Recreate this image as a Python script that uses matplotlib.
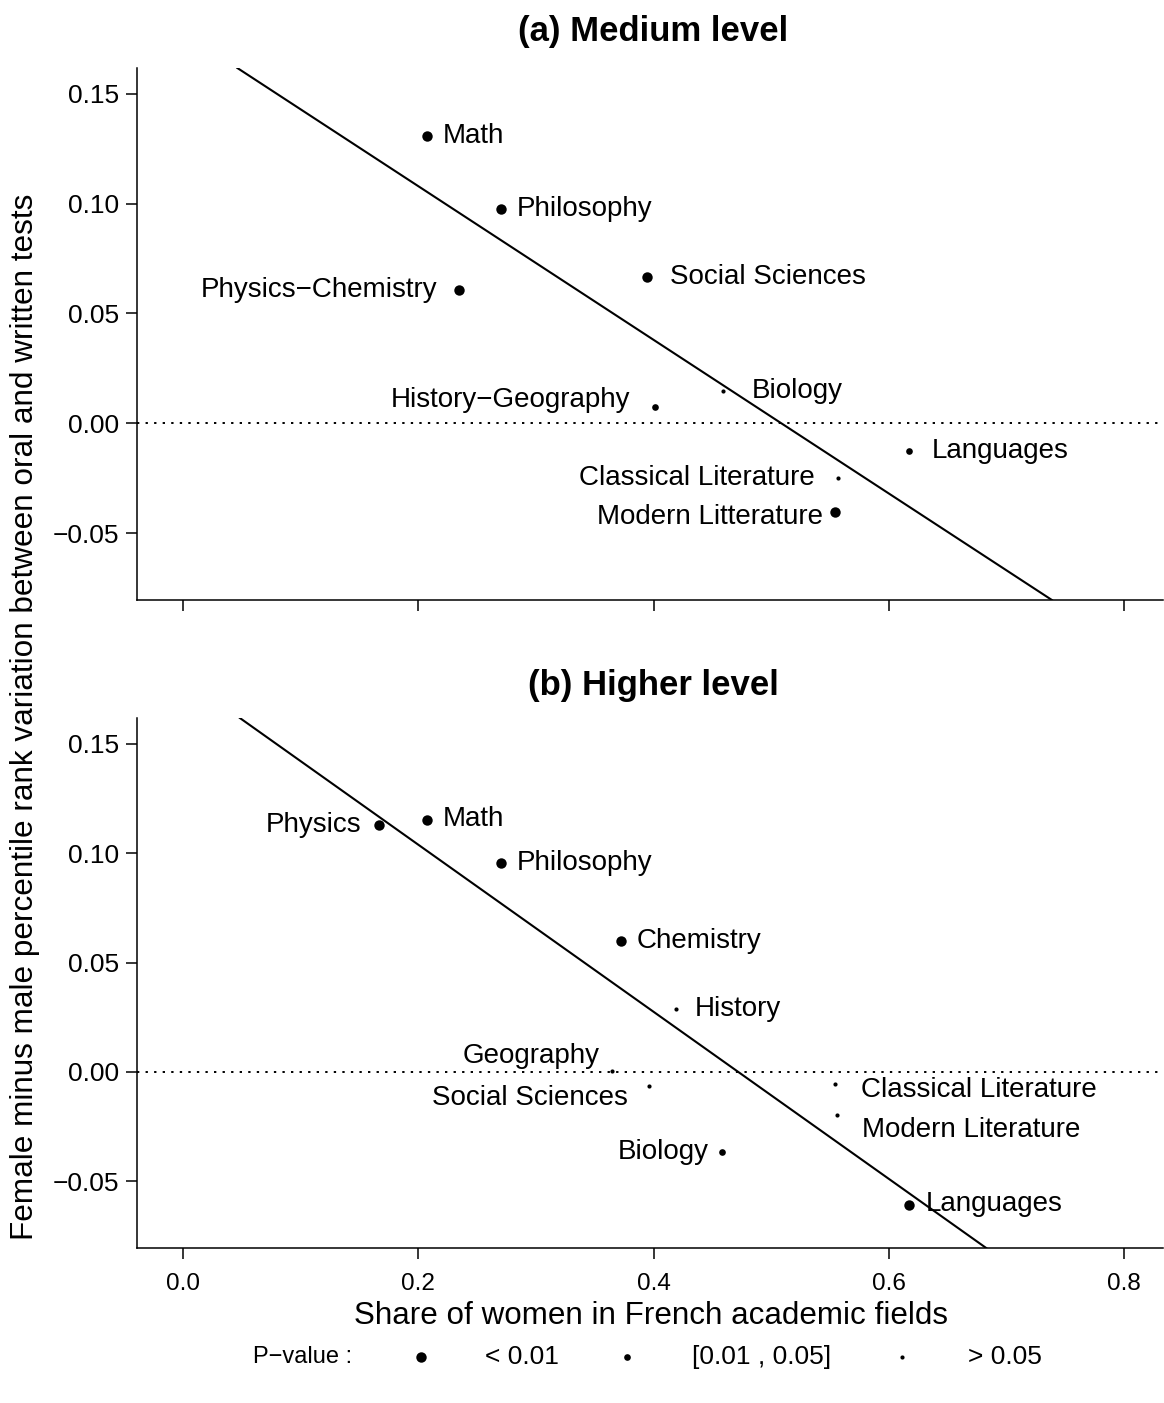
import matplotlib
matplotlib.use('Agg')
import matplotlib.pyplot as plt
from matplotlib.lines import Line2D

plt.rcParams['font.family'] = ['Liberation Sans', 'DejaVu Sans']

# ---- data ----
# (a) medium level
med_fields = ['Math', 'Philosophy', 'Social Sciences', 'Physics\u2212Chemistry',
              'Biology', 'History\u2212Geography', 'Languages',
              'Classical Literature', 'Modern Litterature']
med_share = [0.2075, 0.270, 0.3946, 0.2347, 0.459, 0.401, 0.617, 0.557, 0.554]
med_gap = [0.1309, 0.0977, 0.0668, 0.0605, 0.0145, 0.0073, -0.0127, -0.0250, -0.0405]
med_pcat = [0, 0, 0, 0, 2, 1, 1, 2, 0]   # 0: <0.01, 1: [0.01,0.05], 2: >0.05
med_fit = (0.178, -0.350)               # intercept, slope

# (b) higher level
high_fields = ['Physics', 'Math', 'Philosophy', 'Chemistry', 'History',
               'Geography', 'Social Sciences', 'Biology',
               'Classical Literature', 'Modern Literature', 'Languages']
high_share = [0.1667, 0.2075, 0.270, 0.3724, 0.419, 0.365, 0.396, 0.458, 0.554, 0.556, 0.617]
high_gap = [0.1130, 0.1153, 0.0956, 0.0599, 0.0288, 0.0003, -0.0064, -0.0366,
            -0.0055, -0.0197, -0.0608]
high_pcat = [0, 0, 0, 0, 2, 2, 2, 1, 2, 2, 0]
high_fit = (0.1803, -0.382)

pval_labels = ['< 0.01', '[0.01 , 0.05]', '> 0.05']
xticks = [0.0, 0.2, 0.4, 0.6, 0.8]
yticks = [-0.05, 0.00, 0.05, 0.10, 0.15]

# ---- layout (label offsets in pixels: dx, dy) ----
med_offsets = [(16, 0), (16, 0), (23, 0), (-22, 0), (29, 0), (-24, 7),
               (23, 0), (-24, 0), (-12, -5)]
high_offsets = [(-18, 0), (16, 1), (16, 0), (16, 0), (19, 0), (-13, 15),
                (-21, -12), (-13, 0), (26, -6), (25, -15), (17, 1)]
dot_sizes = [7.5, 4.8, 3.0]  # marker size (pt) for each p-value class

W, H = 1164, 1403
fig = plt.figure(figsize=(W / 100, H / 100), dpi=100)
PX = 0.72  # points per pixel at 100 dpi


def draw_panel(ax, share, gap, pcat, fields, offsets, fit, show_xlabels):
    ax.axhline(0, color='black', lw=1.4, ls=(0, (1.2, 3.2)))
    ax.axline((0, fit[0]), slope=fit[1], color='black', lw=1.5)
    for x, y, c, name, (dx, dy) in zip(share, gap, pcat, fields, offsets):
        ax.plot(x, y, 'o', color='black', ms=dot_sizes[c], mec='none')
        ax.annotate(name, (x, y), xytext=(dx * PX, dy * PX),
                    textcoords='offset points',
                    ha='left' if dx > 0 else 'right', va='center',
                    fontsize=20)
    ax.set_xlim(-0.039, 0.833)
    ax.set_ylim(-0.0805, 0.1618)
    ax.set_xticks(xticks)
    ax.set_yticks(yticks)
    ax.set_yticklabels([f'{v:.2f}'.replace('-', '\u2212') for v in yticks], fontsize=19)
    if show_xlabels:
        ax.set_xticklabels([f'{v:.1f}' for v in xticks], fontsize=17.5)
    else:
        ax.set_xticklabels([])
    for s in ['top', 'right']:
        ax.spines[s].set_visible(False)
    for s in ['left', 'bottom']:
        ax.spines[s].set_linewidth(1.1)
    ax.tick_params(direction='out', length=8, width=1.1)
    ax.tick_params(axis='x', pad=10)
    ax.tick_params(axis='y', pad=5)


ax1 = fig.add_axes([137 / W, 1 - 600 / H, (1163 - 137) / W, 532 / H])
draw_panel(ax1, med_share, med_gap, med_pcat, med_fields, med_offsets, med_fit, False)
ax2 = fig.add_axes([137 / W, 1 - 1248 / H, (1163 - 137) / W, 530 / H])
draw_panel(ax2, high_share, high_gap, high_pcat, high_fields, high_offsets, high_fit, True)

fig.text(653 / W, 1 - 32 / H, '(a) Medium level', ha='center', va='center',
         fontsize=25, fontweight='bold')
fig.text(653 / W, 1 - 685 / H, '(b) Higher level', ha='center', va='center',
         fontsize=25, fontweight='bold')
fig.text(25 / W, 1 - 717 / H,
         'Female minus male percentile rank variation between oral and written tests',
         rotation=90, ha='center', va='center', fontsize=22.7)
fig.text(651 / W, 1 - 1316 / H, 'Share of women in French academic fields',
         ha='center', va='center', fontsize=22.6)

# legend row
ly = 1 - 1357 / H
fig.text(303 / W, ly, 'P\u2212value :', ha='center', va='center', fontsize=17)
dot_x = [421, 627, 902]
txt_x = [522, 762, 1005]
for i in range(3):
    fig.add_artist(Line2D([dot_x[i] / W], [ly], marker='o', color='black',
                          ms=dot_sizes[i], mec='none', transform=fig.transFigure))
    fig.text(txt_x[i] / W, ly, pval_labels[i], ha='center', va='center', fontsize=19)

fig.savefig('out.png', dpi=100)
